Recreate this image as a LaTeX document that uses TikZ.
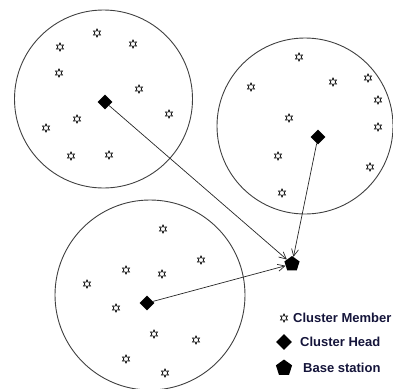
\documentclass[tikz,border=0pt]{standalone}
\usepackage{fontspec}
\setmainfont{Liberation Sans}
\usetikzlibrary{shapes.geometric,arrows.meta}
\definecolor{legtext}{HTML}{14143A}
\tikzset{
  cluster/.style={draw=black!75,line width=0.9pt},
  member/.style={star,star points=6,star point ratio=1.9,draw=black,line width=0.7pt,inner sep=0pt,minimum size=8pt},
  head/.style={diamond,fill=black,inner sep=0pt,minimum size=15pt},
  bs/.style={regular polygon,regular polygon sides=5,fill=black,inner sep=0pt,minimum size=16pt},
  link/.style={draw=black!85,line width=0.7pt,-{Straight Barb[length=7pt,width=7pt]}},
  legtxt/.style={anchor=west,text=legtext,font=\bfseries\fontsize{13}{15}\selectfont,inner sep=0pt}
}
\begin{document}
\begin{tikzpicture}[x=1pt,y=-1pt]
\useasboundingbox (0,0) rectangle (393,388);
% clusters
\draw[cluster] (103.5,99) circle (89);
\draw[cluster] (305,126) circle (88);
\draw[cluster] (150,295) circle (95);
% members cluster 1
\foreach \p/\n in {{(97,33)}/a1,{(60,47)}/a2,{(133,44)}/a3,{(59,73)}/a4,{(139,89)}/a5,{(169,114)}/a6,{(77,119)}/a7,{(46,128)}/a8,{(71,156)}/a9,{(109,155)}/a10}
  \node[member] (\n) at \p {};
% members cluster 2
\foreach \p/\n in {{(299,57)}/b1,{(251,87)}/b2,{(333,82)}/b3,{(368,78)}/b4,{(378,100)}/b5,{(289,118)}/b6,{(378,127)}/b7,{(278,156)}/b8,{(370,167)}/b9,{(282,193)}/b10}
  \node[member] (\n) at \p {};
% members cluster 3
\foreach \p/\n in {{(163,229)}/c1,{(201,260)}/c2,{(126,270)}/c3,{(162,274)}/c4,{(87,284)}/c5,{(116,308)}/c6,{(154,334)}/c7,{(196,340)}/c8,{(126,359)}/c9,{(165,373)}/c10}
  \node[member] (\n) at \p {};
% heads and base station
\node[head] (h1) at (105,102) {};
\node[head] (h2) at (318,137) {};
\node[head] (h3) at (147,303) {};
\node[bs] (bs) at (292,264) {};
\draw[link] (h1) -- (bs);
\draw[link] (h2) -- (bs);
\draw[link] (h3) -- (bs);
% legend
\node[member] (lm) at (284,318) {};
\node[head,minimum size=16pt] (lh) at (284,342) {};
\node[bs,minimum size=17pt] (lb) at (284,368) {};
\node[legtxt] (tm) at (293,318) {Cluster Member};
\node[legtxt] (th) at (300,342) {Cluster Head};
\node[legtxt] (tb) at (303,368) {Base station};
\end{tikzpicture}
\end{document}
